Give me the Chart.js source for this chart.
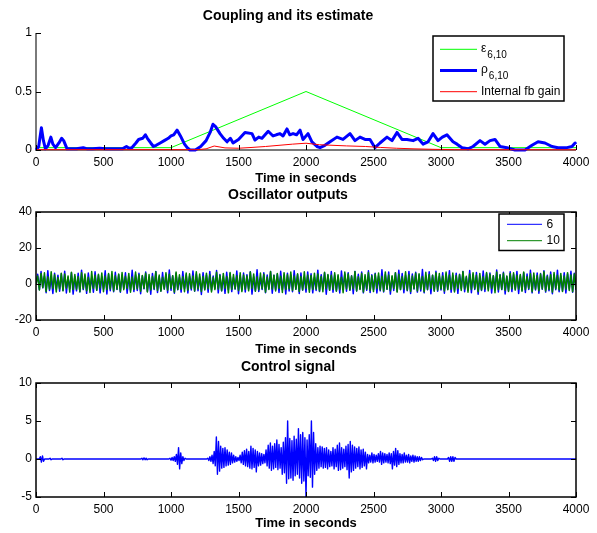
<!DOCTYPE html>
<html>
<head>
<meta charset="utf-8">
<script src="https://cdn.jsdelivr.net/npm/chart.js@4.4.0/dist/chart.umd.min.js"></script>
<style>
  body { margin: 0; background: #fff; }
  canvas { position: absolute; left: 0; }
</style>
</head>
<body>
<canvas id="coupling" width="597" height="187" style="top:0px"></canvas>
<canvas id="osc" width="597" height="173" style="top:185px"></canvas>
<canvas id="control" width="597" height="175" style="top:358px"></canvas>
<script>
// ---- data ----
const xTicks = [0, 500, 1000, 1500, 2000, 2500, 3000, 3500, 4000];

// coupling epsilon_6,10 (green)
const epsTime = [0, 1000, 2000, 3000, 4000];
const epsValue = [0.02, 0.02, 0.5, 0.02, 0.02];

// estimate rho_6,10 (thick blue)
const rhoTime = [0, 20, 40, 55, 70, 90, 110, 125, 145, 170,
  190, 205, 230, 260, 300, 350, 380, 420, 470, 520,
  580, 640, 670, 690, 710, 740, 760, 790, 810, 825,
  850, 870, 890, 920, 950, 980, 1000, 1020, 1045, 1070,
  1100, 1120, 1140, 1180, 1220, 1260, 1290, 1311, 1330, 1363,
  1390, 1415, 1440, 1460, 1500, 1548, 1600, 1622, 1650, 1674,
  1720, 1756, 1780, 1807, 1830, 1859, 1880, 1904, 1930, 1956,
  1978, 2015, 2044, 2081, 2104, 2140, 2178, 2229, 2274, 2326,
  2363, 2400, 2437, 2474, 2511, 2548, 2600, 2637, 2674, 2711,
  2748, 2793, 2830, 2867, 2904, 2941, 2978, 3010, 3044, 3089,
  3119, 3156, 3200, 3237, 3289, 3326, 3363, 3400, 3437, 3489,
  3548, 3622, 3674, 3719, 3770, 3822, 3867, 3933, 3970, 3993, 4000];
const rhoValue = [0, 0.03, 0.19, 0.08, 0.01, 0.04, 0.11, 0.05, 0.02, 0.06,
  0.1, 0.08, 0.01, 0.01, 0.01, 0.02, 0.01, 0.01, 0.015, 0.01,
  0.01, 0.01, 0.03, 0.015, 0.02, 0.06, 0.09, 0.1, 0.13, 0.1,
  0.06, 0.03, 0.04, 0.06, 0.08, 0.1, 0.12, 0.13, 0.17, 0.12,
  0.05, 0.02, 0, 0, 0.03, 0.08, 0.15, 0.22, 0.2, 0.14,
  0.1, 0.07, 0.1, 0.06, 0.09, 0.15, 0.14, 0.085, 0.11, 0.1,
  0.16, 0.12, 0.13, 0.14, 0.12, 0.18, 0.13, 0.14, 0.13, 0.17,
  0.09, 0.14, 0.07, 0.03, 0.02, 0.04, 0.07, 0.11, 0.09, 0.14,
  0.08, 0.11, 0.09, 0.09, 0.02, 0.06, 0.11, 0.08, 0.15, 0.09,
  0.09, 0.08, 0.1, 0.05, 0.07, 0.14, 0.08, 0.11, 0.13, 0.07,
  0.05, 0.02, 0.01, 0.03, 0.08, 0.05, 0.08, 0.09, 0.03, 0.02,
  0, 0, 0.04, 0.07, 0.06, 0.03, 0.02, 0.02, 0.03, 0.06, 0.05];

// internal feedback gain (red)
const gainTime = [0, 1200, 1260, 1320, 1400, 1500, 1600, 1700, 1800, 1900, 2000,
  2100, 2200, 2300, 2440, 2550, 2670, 2800, 2940, 3100, 4000];
const gainValue = [0.003, 0.003, 0.01, 0.034, 0.018, 0.015, 0.022, 0.03, 0.04, 0.05, 0.058,
  0.045, 0.04, 0.035, 0.03, 0.022, 0.015, 0.01, 0.006, 0.003, 0.002];

// oscillator outputs, one sample every 12.5 s
const oscStep = 12.5;
const osc6 = [0, 5.4, -3.2, 6.9, -2.1, 4.3, -4.8, 7.4, -3.6, 3.2, -5.3, 6.0, -2.7, 4.9, -4.0, 5.7, -3.5, 7.1, -5.0, 3.6,
  -2.4, 6.3, -5.6, 4.1, -3.8, 6.0, -4.4, 7.7, -3.1, 4.4, -5.2, 6.1, -2.6, 3.5, -4.6, 6.8, -3.3, 5.0, -4.9, 4.0,
  -2.8, 7.3, -5.5, 5.4, -3.7, 4.2, -4.3, 6.5, -3.0, 5.2, -4.6, 4.8, -2.5, 6.2, -5.1, 3.8, -3.4, 7.6, -4.2, 5.1,
  -3.6, 6.0, -5.4, 4.6, -2.7, 6.6, -4.1, 3.4, -5.7, 5.9, -3.0, 7.0, -4.7, 4.1, -3.9, 6.4, -2.8, 5.3, -4.8, 7.8,
  -3.5, 4.6, -5.1, 6.0, -3.2, 3.7, -4.5, 6.9, -2.6, 5.1, -5.0, 4.3, -3.3, 7.2, -4.0, 5.6, -3.7, 4.0, -5.8, 6.3,
  -2.9, 5.0, -4.6, 7.0, -3.5, 4.4, -2.4, 7.5, -4.9, 5.3, -3.8, 4.1, -5.2, 6.5, -3.1, 5.8, -4.2, 3.6, -2.8, 7.2,
  -5.4, 4.7, -3.5, 6.1, -4.4, 5.2, -2.7, 6.8, -5.6, 4.0, -3.9, 7.9, -4.1, 3.5, -3.0, 6.2, -4.8, 5.0, -2.6, 6.9,
  -5.1, 4.9, -3.3, 5.5, -4.7, 7.1, -3.2, 4.3, -5.5, 6.0, -3.9, 5.0, -4.3, 7.4, -2.9, 5.3, -5.3, 6.1, -3.4, 4.0,
  -4.5, 6.7, -3.1, 5.7, -4.9, 3.8, -3.6, 7.7, -4.2, 5.2, -2.5, 6.3, -5.7, 4.8, -3.3, 6.9, -4.6, 5.0, -3.8, 4.4,
  -5.0, 7.2, -2.8, 5.6, -4.0, 6.2, -3.4, 4.6, -5.4, 7.0, -3.9, 5.4, -2.7, 6.6, -4.9, 3.9, -3.5, 7.3, -4.7, 5.1,
  -3.1, 6.0, -5.0, 4.4, -3.8, 7.9, -4.4, 5.3, -2.9, 6.6, -5.6, 4.0, -3.6, 6.2, -4.1, 7.6, -3.0, 5.8, -4.8, 4.7,
  -3.7, 7.0, -5.3, 5.5, -2.8, 6.5, -4.5, 5.1, -3.9, 8.0, -4.9, 4.5, -3.2, 6.8, -5.4, 4.9, -3.7, 7.1, -4.0, 4.2,
  -3.3, 6.3, -5.1, 5.6, -2.9, 7.4, -4.6, 4.8, -3.8, 6.0, -5.2, 5.4, -2.6, 6.9, -4.3, 3.7, -3.5, 7.5, -4.8, 5.0,
  -3.0, 6.4, -5.7, 4.3, -3.6, 7.2, -4.1, 5.9, -2.7, 6.1, -5.0, 4.6, -3.4, 7.8, -4.4, 5.2, -3.1, 6.5, -5.5, 4.1,
  -3.8, 6.8, -4.2, 5.3, -2.8, 7.0, -5.3, 4.7, -3.6, 6.3, -4.7, 5.5, -3.0, 7.6, -4.9, 4.4, -3.3, 6.1, -5.1, 5.8,
  -2.9, 7.3, -4.5, 4.9, -3.7, 6.6, -5.4, 5.2, -3.2, 7.7, -4.3, 4.5, -3.8, 6.2, -5.0, 5.6, -2.8, 7.1, -4.6, 6.0,
  -3.4];
const osc10 = [0, 4.4, -3.3, 5.9, -2.0, 6.2, -4.1, 4.0, -2.9, 6.8, -2.5, 5.1, -4.4, 3.6, -2.7, 6.0, -3.8, 5.5, -2.3, 4.5,
  -4.5, 6.5, -3.0, 5.3, -2.8, 4.1, -4.2, 6.3, -2.6, 5.6, -3.7, 3.8, -4.7, 6.9, -2.4, 4.8, -3.5, 5.4, -2.2, 6.1,
  -4.3, 4.4, -3.1, 5.8, -2.7, 6.9, -3.9, 4.6, -2.9, 5.5, -4.1, 6.4, -3.2, 4.3, -2.5, 5.9, -4.6, 3.9, -3.0, 6.6,
  -2.6, 5.2, -4.0, 4.7, -2.4, 6.0, -4.4, 5.3, -3.3, 4.2, -2.6, 6.8, -3.6, 5.0, -4.0, 3.8, -2.8, 6.3, -3.4, 5.4,
  -2.3, 4.6, -4.5, 6.6, -3.0, 5.1, -2.8, 4.0, -4.3, 6.1, -3.4, 5.7, -2.5, 4.4, -3.9, 6.8, -2.7, 5.5, -4.1, 4.2,
  -3.3, 6.0, -2.6, 5.1, -4.4, 3.8, -3.1, 6.5, -2.8, 4.8, -3.7, 5.9, -2.4, 4.2, -4.9, 6.4, -3.0, 5.3, -2.7, 4.6,
  -3.6, 6.2, -4.2, 5.0, -2.9, 4.5, -3.8, 6.7, -2.5, 5.6, -4.0, 4.0, -3.2, 6.1, -2.6, 5.4, -4.5, 3.9, -3.0, 6.9,
  -2.8, 4.9, -3.9, 5.8, -2.4, 4.3, -4.7, 6.3, -3.1, 5.2, -2.7, 6.6, -3.6, 4.4, -2.9, 5.7, -4.1, 4.1, -3.3, 6.8,
  -2.5, 5.0, -4.6, 4.7, -3.0, 6.0, -2.8, 5.5, -3.8, 4.2, -4.3, 6.5, -2.6, 5.3, -3.5, 4.8, -2.9, 6.2, -4.0, 5.1,
  -3.1, 3.8, -4.8, 6.6, -2.7, 5.6, -3.4, 4.5, -2.6, 6.9, -3.9, 4.0, -3.0, 5.9, -4.4, 5.2, -2.8, 6.4, -3.6, 4.6,
  -4.2, 5.5, -2.5, 6.1, -3.3, 4.3, -4.0, 6.7, -2.9, 5.0, -3.7, 4.6, -2.4, 6.3, -4.5, 5.4, -3.1, 4.1, -2.7, 6.8,
  -3.5, 5.1, -4.1, 4.4, -2.6, 6.0, -3.8, 5.7, -2.8, 4.2, -4.3, 6.5, -3.0, 5.3, -2.5, 4.9, -4.0, 6.2, -3.4, 5.8,
  -2.7, 4.5, -3.9, 6.6, -3.2, 5.0, -2.9, 6.1, -4.4, 4.7, -2.4, 5.2, -3.6, 6.9, -2.8, 4.3, -4.6, 5.6, -3.0, 6.3,
  -2.6, 4.8, -4.2, 5.9, -3.3, 4.0, -2.7, 6.4, -3.8, 5.4, -2.5, 4.6, -4.8, 6.7, -3.1, 5.0, -2.9, 6.0, -3.5, 4.4,
  -4.1, 5.8, -2.6, 6.2, -3.4, 4.9, -2.8, 5.3, -4.0, 6.6, -3.2, 4.1, -2.5, 5.7, -4.3, 6.1, -2.9, 4.7, -3.7, 5.5,
  -2.7, 6.8, -3.9, 4.3, -3.0, 5.2, -4.5, 6.4, -2.6, 4.8, -3.3, 5.9, -4.1, 4.5, -2.8, 6.3, -3.6, 5.0, -4.2, 5.6,
  -2.8];

// control signal, one sample every 8 s
const ctrlStep = 8;
const ctrl = [0, 0, 0, 0, 0.3, -0.4, 0.4, -0.3, 0, 0, 0, 0, 0, 0.1, -0.1, 0, 0, 0, 0, 0, 0, 0, 0, 0, 0.1,
  -0.1, 0, 0, 0, 0, 0, 0, 0, 0, 0, 0, 0, 0, 0, 0, 0, 0, 0, 0, 0, 0, 0, 0, 0, 0,
  0, 0, 0, 0, 0, 0, 0, 0, 0, 0, 0, 0, 0, 0, 0, 0, 0, 0, 0, 0, 0, 0, 0, 0, 0,
  0, 0, 0, 0, 0, 0, 0, 0, 0, 0, 0, 0, 0, 0, 0, 0, 0, 0, 0, 0, 0, 0, 0, 0.1, -0.1,
  0.15, -0.1, 0.1, -0.1, 0, 0, 0, 0, 0, 0, 0, 0, 0, 0, 0, 0, 0, 0, 0, 0, 0, 0, 0, 0, 0.1,
  -0.15, 0.2, -0.2, 0.3, -0.3, 0.6, -0.7, 1.5, -1.3, 0.8, -0.6, 0.3, -0.2, 0.1, 0, 0, 0, 0, 0, 0, 0, 0, 0, 0, 0,
  0, 0, 0, 0, 0, 0, 0, 0, 0, 0.1, -0.2, 0.3, -0.3, 0.5, -0.6, 1.0, -0.9, 2.9, -2.0, 2.3, -1.6, 1.7, -1.2, 1.4, -1.1,
  1.5, -0.9, 1.2, -0.8, 0.9, -0.7, 0.8, -0.5, 0.5, -0.4, 0.3, -0.3, 0.2, -0.2, 0.5, -0.5, 0.9, -0.7, 1.1, -0.9, 1.3, -1.0, 1.0, -1.2, 1.7,
  -1.3, 1.4, -1.1, 1.2, -1.7, 1.0, -0.9, 0.8, -0.8, 0.7, -0.6, 0.6, -0.5, 1.2, -0.9, 1.8, -1.2, 2.1, -1.5, 1.7, -1.3, 2.0, -1.1, 2.5, -1.4,
  1.9, -1.2, 1.5, -2.0, 2.2, -1.8, 2.8, -3.2, 5.0, -2.6, 2.7, -2.5, 2.4, -2.8, 3.0, -2.2, 2.6, -2.0, 4.0, -2.5, 3.2, -3.2, 3.5, -2.9, 2.8,
  -5.0, 2.5, -2.2, 3.2, -2.4, 5.0, -3.7, 3.5, -2.0, 2.0, -1.5, 1.5, -1.2, 1.7, -1.0, 1.6, -1.2, 1.4, -1.1, 1.5, -1.3, 1.2, -1.0, 1.0, -0.9,
  1.5, -1.3, 1.3, -1.0, 1.8, -1.5, 2.1, -1.4, 1.5, -1.2, 1.3, -1.0, 1.7, -1.4, 1.9, -2.5, 2.3, -1.7, 1.8, -1.5, 1.6, -1.2, 1.4, -1.0, 1.6,
  -1.3, 1.2, -1.1, 1.3, -0.9, 0.9, -1.3, 0.6, -0.5, 0.5, -0.4, 0.8, -0.5, 0.6, -0.4, 0.5, -0.3, 0.7, -0.4, 1.0, -0.7, 0.8, -0.5, 0.7, -0.4,
  0.6, -0.5, 0.8, -0.6, 0.7, -1.3, 1.0, -0.8, 1.4, -1.0, 1.1, -0.7, 0.7, -0.5, 0.6, -0.5, 0.8, -0.4, 0.5, -0.4, 0.6, -0.5, 0.4, -0.3, 0.5,
  -0.4, 0.4, -0.3, 0.3, -0.3, 0.3, -0.2, 0.2, -0.1, 0, 0, 0, 0, 0, 0, 0, 0, 0.1, -0.2, 0.3, -0.3, 0.3, -0.2, 0.1, 0,
  0, 0, 0, 0, 0, 0, 0, 0.2, -0.3, 0.3, -0.3, 0.3, -0.3, 0.2, 0, 0, 0, 0, 0, 0, 0, 0, 0, 0, 0,
  0, 0, 0, 0, 0, 0, 0, 0, 0, 0, 0, 0, 0, 0, 0, 0, 0, 0, 0, 0, 0, 0, 0, 0, 0,
  0, 0, 0, 0, 0, 0, 0, 0, 0, 0, 0, 0, 0, 0, 0, 0, 0, 0, 0, 0, 0, 0, 0, 0, 0,
  0, 0, 0, 0, 0, 0, 0, 0, 0, 0, 0, 0, 0, 0, 0, 0, 0, 0, 0, 0, 0, 0, 0, 0, 0,
  0, 0, 0, 0, 0, 0, 0, 0, 0, 0, 0, 0, 0, 0, 0, 0, 0, 0, 0, 0, 0, 0, 0, 0, 0,
  0];

const FONT = "'Liberation Sans', Arial, Helvetica, sans-serif";
Chart.defaults.font.family = FONT;
Chart.defaults.color = '#000';

function pairs(times, values) {
  return values.map((v, i) => ({ x: times[i], y: v }));
}
function sampled(values, step) {
  return values.map((v, i) => ({ x: i * step, y: v }));
}

// matlab look: ticks pointing inward, box or plain axes
const matlabAxes = {
  id: 'matlabAxes',
  beforeDatasetsDraw(chart, args, opts) {
    if (opts.box) return;
    const { ctx, chartArea: a } = chart;
    ctx.save();
    ctx.strokeStyle = '#7a7a7a';
    ctx.lineWidth = 2;
    ctx.beginPath();
    ctx.moveTo(a.left, a.top);
    ctx.lineTo(a.left, a.bottom);
    ctx.lineTo(a.right, a.bottom);
    ctx.stroke();
    ctx.restore();
  },
  afterDatasetsDraw(chart, args, opts) {
    const { ctx, chartArea: a, scales } = chart;
    const len = 5;
    ctx.save();
    ctx.strokeStyle = '#000';
    ctx.lineWidth = 1;
    ctx.beginPath();
    scales.x.ticks.forEach(t => {
      const px = Math.round(scales.x.getPixelForValue(t.value)) + 0.5;
      ctx.moveTo(px, a.bottom);
      ctx.lineTo(px, a.bottom - len);
      if (opts.box) {
        ctx.moveTo(px, a.top);
        ctx.lineTo(px, a.top + len);
      }
    });
    scales.y.ticks.forEach(t => {
      const py = Math.round(scales.y.getPixelForValue(t.value)) + 0.5;
      ctx.moveTo(a.left, py);
      ctx.lineTo(a.left + len, py);
      if (opts.box) {
        ctx.moveTo(a.right, py);
        ctx.lineTo(a.right - len, py);
      }
    });
    ctx.stroke();
    if (opts.box) {
      ctx.lineWidth = 1.5;
      ctx.strokeRect(a.left, a.top, a.width, a.height);
    }
    ctx.restore();
  }
};

// legend box inside the axes, with subscripts
const boxLegend = {
  id: 'boxLegend',
  afterDraw(chart, args, opts) {
    if (!opts.items) return;
    const { ctx, chartArea: a } = chart;
    const x0 = Math.round(a.right - opts.right - opts.width);
    const y0 = Math.round(a.top + opts.top);
    ctx.save();
    ctx.fillStyle = '#fff';
    ctx.fillRect(x0, y0, opts.width, opts.height);
    ctx.strokeStyle = '#000';
    ctx.lineWidth = 1.5;
    ctx.strokeRect(x0, y0, opts.width, opts.height);
    opts.items.forEach((it, i) => {
      const yy = y0 + opts.firstRow + i * opts.rowGap;
      ctx.strokeStyle = it.color;
      ctx.lineWidth = it.width;
      ctx.beginPath();
      ctx.moveTo(x0 + opts.lineX, yy);
      ctx.lineTo(x0 + opts.lineX + opts.lineLen, yy);
      ctx.stroke();
      ctx.fillStyle = '#000';
      ctx.textBaseline = 'middle';
      ctx.font = '12px ' + FONT;
      const tx = x0 + opts.textX;
      ctx.fillText(it.label, tx, yy + (it.sub ? -1 : 0));
      if (it.sub) {
        const w = ctx.measureText(it.label).width;
        ctx.font = '10px ' + FONT;
        ctx.fillText(it.sub, tx + w + 1, yy + 6);
      }
    });
    ctx.restore();
  }
};

function panel(id, cfg) {
  return new Chart(document.getElementById(id), {
    type: 'line',
    data: { datasets: cfg.datasets },
    options: {
      responsive: false,
      animation: false,
      events: [],
      layout: { padding: { left: 0, right: 21, top: 0, bottom: 0 } },
      elements: { point: { radius: 0 }, line: { tension: 0, borderJoinStyle: 'round' } },
      plugins: {
        legend: { display: false },
        tooltip: { enabled: false },
        title: {
          display: true, text: cfg.title, color: '#000',
          font: { size: 14, weight: 'bold' }, padding: cfg.titlePad
        },
        matlabAxes: { box: cfg.box },
        boxLegend: cfg.legend || {}
      },
      scales: {
        x: {
          type: 'linear', min: 0, max: 4000,
          grid: { display: false, drawTicks: false },
          border: { display: false },
          afterBuildTicks: s => { s.ticks = xTicks.map(v => ({ value: v })); },
          ticks: { padding: 5, maxRotation: 0, autoSkip: false, font: { size: 12 }, color: '#000', callback: v => String(v) },
          title: {
            display: true, text: 'Time in seconds', color: '#000',
            font: { size: 13, weight: 'bold' }, padding: { top: 0, bottom: cfg.xTitleBottom }
          },
          afterFit: s => { s.height = cfg.xHeight; }
        },
        y: {
          min: cfg.yTicks[0], max: cfg.yTicks[cfg.yTicks.length - 1],
          grid: { display: false, drawTicks: false },
          border: { display: false },
          afterBuildTicks: s => { s.ticks = cfg.yTicks.map(v => ({ value: v })); },
          ticks: { padding: 4, font: { size: 12 }, color: '#000', callback: v => String(v) },
          afterFit: s => { s.width = 36; }
        }
      }
    },
    plugins: [matlabAxes, boxLegend]
  });
}

panel('coupling', {
  title: 'Coupling and its estimate',
  titlePad: { top: 8, bottom: 8.2 },
  xHeight: 37, xTitleBottom: 1.2,
  yTicks: [0, 0.5, 1],
  box: false,
  datasets: [
    { data: pairs(epsTime, epsValue), borderColor: '#00ff00', borderWidth: 1, order: 3, clip: false },
    { data: pairs(rhoTime, rhoValue), borderColor: '#0000ff', borderWidth: 3, order: 2, clip: false },
    { data: pairs(gainTime, gainValue), borderColor: '#ff0000', borderWidth: 1, order: 1, clip: false }
  ],
  legend: {
    right: 12, top: 3, width: 131, height: 65,
    lineX: 7, lineLen: 37, textX: 48, firstRow: 13.3, rowGap: 21.2,
    items: [
      { label: '\u03b5', sub: '6,10', color: '#00ff00', width: 1 },
      { label: '\u03c1', sub: '6,10', color: '#0000ff', width: 3 },
      { label: 'Internal fb gain', color: '#ff0000', width: 1 }
    ]
  }
});

panel('osc', {
  title: 'Oscillator outputs',
  titlePad: { top: 1.6, bottom: 8.6 },
  xHeight: 38, xTitleBottom: 1.2,
  yTicks: [-20, 0, 20, 40],
  box: true,
  datasets: [
    { data: sampled(osc6, oscStep), borderColor: '#0000ff', borderWidth: 1.5, order: 2 },
    { data: sampled(osc10, oscStep), borderColor: '#008000', borderWidth: 1.5, order: 1 }
  ],
  legend: {
    right: 12, top: 2, width: 65, height: 36.5,
    lineX: 8, lineLen: 35, textX: 47.5, firstRow: 10.3, rowGap: 16.4,
    items: [
      { label: '6', color: '#0000ff', width: 1 },
      { label: '10', color: '#008000', width: 1 }
    ]
  }
});

panel('control', {
  title: 'Control signal',
  titlePad: { top: 1.1, bottom: 7.1 },
  xHeight: 36, xTitleBottom: 2.2,
  yTicks: [-5, 0, 5, 10],
  box: true,
  datasets: [
    { data: sampled(ctrl, ctrlStep), borderColor: '#0000ff', borderWidth: 1.4 }
  ]
});
</script>
</body>
</html>
